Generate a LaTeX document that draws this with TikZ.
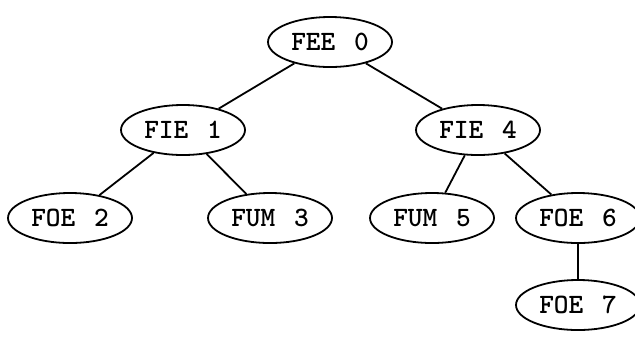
\documentclass[tikz,border=0pt]{standalone}
\usepackage{tikz}
\usetikzlibrary{shapes.geometric}

\tikzset{
	word/.style={ellipse, draw, line width=0.9pt, minimum width=62pt, minimum height=25pt,
		inner sep=0pt, font=\ttfamily\bfseries\fontsize{14}{16}\selectfont},
	link/.style={line width=0.9pt}
}
\newcommand{\gap}{\ \hspace{2pt}}

\begin{document}
\begin{tikzpicture}[x=0.5pt,y=-0.5pt]
\useasboundingbox (0,0) rectangle (635,339);

% oberste Ebene
\node[word] (fee0) at (330,42) {FEE\gap 0};

% zweite Ebene
\node[word] (fie1) at (183,130) {FIE\gap 1};
\node[word] (fie4) at (478,130) {FIE\gap 4};

% Blaetter
\node[word] (foe2) at (70,218) {FOE\gap 2};
\node[word] (fum3) at (270,218) {FUM\gap 3};
\node[word] (fum5) at (432,218) {FUM\gap 5};
\node[word] (foe6) at (578,218) {FOE\gap 6};
\node[word] (foe7) at (578,305) {FOE\gap 7};

\draw[link] (fee0) -- (fie1);
\draw[link] (fee0) -- (fie4);
\draw[link] (fie1) -- (foe2);
\draw[link] (fie1) -- (fum3);
\draw[link] (fie4) -- (fum5);
\draw[link] (fie4) -- (foe6);
\draw[link] (foe6) -- (foe7);

\end{tikzpicture}
\end{document}
